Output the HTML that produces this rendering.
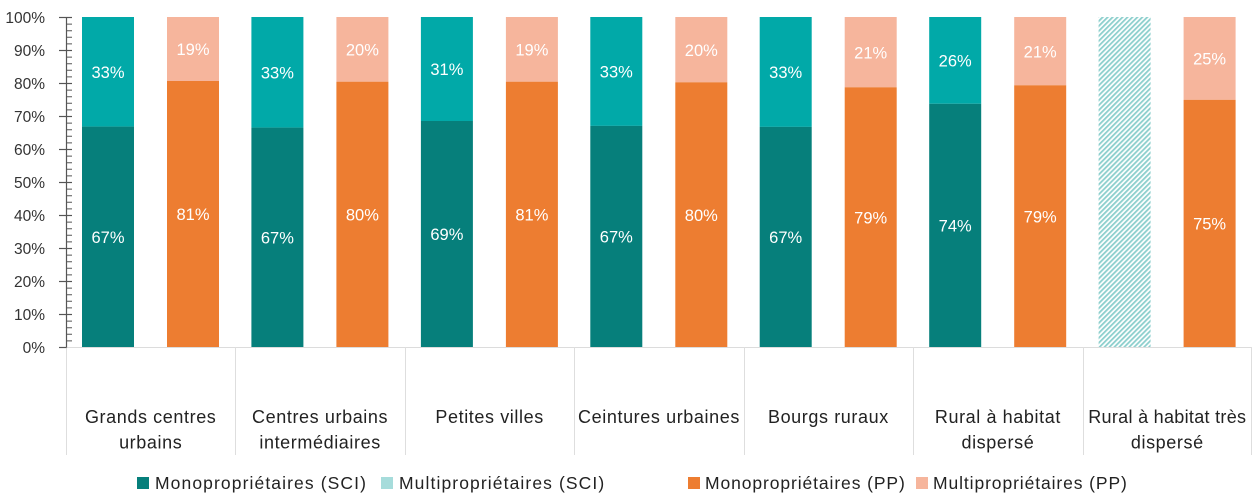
<!DOCTYPE html>
<html><head><meta charset="utf-8"><style>
html,body{margin:0;padding:0;background:#fff;}
svg{display:block;}
text{font-family:"Liberation Sans",sans-serif;}
</style></head><body>
<svg width="1252" height="500" viewBox="0 0 1252 500" xmlns="http://www.w3.org/2000/svg">
<defs>
<pattern id="hatch" patternUnits="userSpaceOnUse" width="3.5" height="3.5" patternTransform="rotate(45)">
<rect width="3.5" height="3.5" fill="#ffffff"/>
<rect width="1.8" height="3.5" fill="#8ccfcd"/>
</pattern>
</defs>

<!-- baseline -->
<line x1="66" y1="347.5" x2="1252" y2="347.5" stroke="#dcdcdc" stroke-width="1"/>
<!-- separators -->
<g stroke="#dedede" stroke-width="1">
<line x1="66.5" y1="347" x2="66.5" y2="455"/>
<line x1="235.5" y1="347" x2="235.5" y2="455"/>
<line x1="405.5" y1="347" x2="405.5" y2="455"/>
<line x1="574.5" y1="347" x2="574.5" y2="455"/>
<line x1="744.5" y1="347" x2="744.5" y2="455"/>
<line x1="913.5" y1="347" x2="913.5" y2="455"/>
<line x1="1083.5" y1="347" x2="1083.5" y2="455"/>
<line x1="1251.5" y1="347" x2="1251.5" y2="455"/>
</g>

<!-- SCI bars -->
<rect x="82" y="17" width="52" height="109.6" fill="#01a9a8"/>
<rect x="82" y="126.6" width="52" height="220.4" fill="#067f7b"/>
<rect x="251.4" y="17" width="52" height="110.6" fill="#01a9a8"/>
<rect x="251.4" y="127.6" width="52" height="219.4" fill="#067f7b"/>
<rect x="420.9" y="17" width="52" height="104" fill="#01a9a8"/>
<rect x="420.9" y="121" width="52" height="226" fill="#067f7b"/>
<rect x="590.3" y="17" width="52" height="108.9" fill="#01a9a8"/>
<rect x="590.3" y="125.9" width="52" height="221.1" fill="#067f7b"/>
<rect x="759.7" y="17" width="52" height="109.9" fill="#01a9a8"/>
<rect x="759.7" y="126.9" width="52" height="220.1" fill="#067f7b"/>
<rect x="929.2" y="17" width="52" height="86.8" fill="#01a9a8"/>
<rect x="929.2" y="103.8" width="52" height="243.2" fill="#067f7b"/>
<rect x="1098.6" y="17" width="52" height="330" fill="url(#hatch)"/>

<!-- PP bars -->
<rect x="167" y="17" width="52" height="64" fill="#f6b59c"/>
<rect x="167" y="81" width="52" height="266" fill="#ed7d31"/>
<rect x="336.4" y="17" width="52" height="64.7" fill="#f6b59c"/>
<rect x="336.4" y="81.7" width="52" height="265.3" fill="#ed7d31"/>
<rect x="505.9" y="17" width="52" height="64.7" fill="#f6b59c"/>
<rect x="505.9" y="81.7" width="52" height="265.3" fill="#ed7d31"/>
<rect x="675.3" y="17" width="52" height="65.3" fill="#f6b59c"/>
<rect x="675.3" y="82.3" width="52" height="264.7" fill="#ed7d31"/>
<rect x="844.7" y="17" width="52" height="70.3" fill="#f6b59c"/>
<rect x="844.7" y="87.3" width="52" height="259.7" fill="#ed7d31"/>
<rect x="1014.2" y="17" width="52" height="68.3" fill="#f6b59c"/>
<rect x="1014.2" y="85.3" width="52" height="261.7" fill="#ed7d31"/>
<rect x="1183.6" y="17" width="52" height="82.8" fill="#f6b59c"/>
<rect x="1183.6" y="99.8" width="52" height="247.2" fill="#ed7d31"/>

<!-- bar labels -->
<g font-size="16.5" fill="#ffffff" text-anchor="middle">
<text x="108" y="78">33%</text><text x="108" y="243">67%</text>
<text x="277.4" y="78.5">33%</text><text x="277.4" y="243.5">67%</text>
<text x="446.9" y="75.2">31%</text><text x="446.9" y="240.2">69%</text>
<text x="616.3" y="77.7">33%</text><text x="616.3" y="242.7">67%</text>
<text x="785.7" y="78.2">33%</text><text x="785.7" y="243.2">67%</text>
<text x="955.2" y="66.6">26%</text><text x="955.2" y="231.6">74%</text>

<text x="193" y="55.2">19%</text><text x="193" y="220.2">81%</text>
<text x="362.4" y="55.5">20%</text><text x="362.4" y="220.5">80%</text>
<text x="531.9" y="55.5">19%</text><text x="531.9" y="220.5">81%</text>
<text x="701.3" y="55.9">20%</text><text x="701.3" y="220.9">80%</text>
<text x="870.7" y="58.4">21%</text><text x="870.7" y="223.4">79%</text>
<text x="1040.2" y="57.4">21%</text><text x="1040.2" y="222.4">79%</text>
<text x="1209.6" y="64.6">25%</text><text x="1209.6" y="229.6">75%</text>
</g>

<!-- axis -->
<line x1="66.5" y1="17" x2="66.5" y2="347.5" stroke="#555" stroke-width="1.2"/>
<g stroke="#555" stroke-width="1.2">
<line x1="59" y1="347.5" x2="66.5" y2="347.5"/>
<line x1="59" y1="314.5" x2="72" y2="314.5"/>
<line x1="59" y1="281.5" x2="72" y2="281.5"/>
<line x1="59" y1="248.5" x2="72" y2="248.5"/>
<line x1="59" y1="215.5" x2="72" y2="215.5"/>
<line x1="59" y1="182.5" x2="72" y2="182.5"/>
<line x1="59" y1="149.5" x2="72" y2="149.5"/>
<line x1="59" y1="116.5" x2="72" y2="116.5"/>
<line x1="59" y1="83.5" x2="72" y2="83.5"/>
<line x1="59" y1="50.5" x2="72" y2="50.5"/>
<line x1="59" y1="17.5" x2="72" y2="17.5"/>
</g>
<path stroke="#555" stroke-width="1" fill="none" d="
M66.5 340.9H72 M66.5 334.3H72 M66.5 327.7H72 M66.5 321.1H72
M66.5 307.9H72 M66.5 301.3H72 M66.5 294.7H72 M66.5 288.1H72
M66.5 274.9H72 M66.5 268.3H72 M66.5 261.7H72 M66.5 255.1H72
M66.5 241.9H72 M66.5 235.3H72 M66.5 228.7H72 M66.5 222.1H72
M66.5 208.9H72 M66.5 202.3H72 M66.5 195.7H72 M66.5 189.1H72
M66.5 175.9H72 M66.5 169.3H72 M66.5 162.7H72 M66.5 156.1H72
M66.5 142.9H72 M66.5 136.3H72 M66.5 129.7H72 M66.5 123.1H72
M66.5 109.9H72 M66.5 103.3H72 M66.5 96.7H72 M66.5 90.1H72
M66.5 76.9H72 M66.5 70.3H72 M66.5 63.7H72 M66.5 57.1H72
M66.5 43.9H72 M66.5 37.3H72 M66.5 30.7H72 M66.5 24.1H72"/>

<g font-size="15.5" fill="#333" text-anchor="end">
<text x="45" y="23">100%</text>
<text x="45" y="56">90%</text>
<text x="45" y="89">80%</text>
<text x="45" y="122">70%</text>
<text x="45" y="155">60%</text>
<text x="45" y="188">50%</text>
<text x="45" y="221">40%</text>
<text x="45" y="254">30%</text>
<text x="45" y="287">20%</text>
<text x="45" y="320">10%</text>
<text x="45" y="353">0%</text>
</g>

<!-- category labels -->
<g font-size="18" fill="#222" text-anchor="middle" letter-spacing="0.6">
<text x="150.7" y="423">Grands centres</text>
<text x="150.7" y="448.5">urbains</text>
<text x="320.1" y="423">Centres urbains</text>
<text x="320.1" y="448.5">intermédiaires</text>
<text x="489.6" y="423">Petites villes</text>
<text x="659" y="423">Ceintures urbaines</text>
<text x="828.4" y="423">Bourgs ruraux</text>
<text x="997.9" y="423">Rural à habitat</text>
<text x="997.9" y="448.5">dispersé</text>
<text x="1167.3" y="423" letter-spacing="0.3">Rural à habitat très</text>
<text x="1167.3" y="448.5">dispersé</text>
</g>

<!-- legend -->
<rect x="137" y="477" width="12" height="12" fill="#067f7b"/>
<rect x="381" y="477" width="12" height="12" fill="#a6dcdb"/>
<rect x="688" y="477" width="12" height="12" fill="#ed7d31"/>
<rect x="916" y="477" width="12" height="12" fill="#f6b59c"/>
<g font-size="17.5" fill="#222" letter-spacing="1.1">
<text x="155" y="489">Monopropriétaires (SCI)</text>
<text x="399" y="489">Multipropriétaires (SCI)</text>
<text x="705" y="489" letter-spacing="0.9">Monopropriétaires (PP)</text>
<text x="933" y="489" letter-spacing="0.9">Multipropriétaires (PP)</text>
</g>
</svg>
</body></html>
